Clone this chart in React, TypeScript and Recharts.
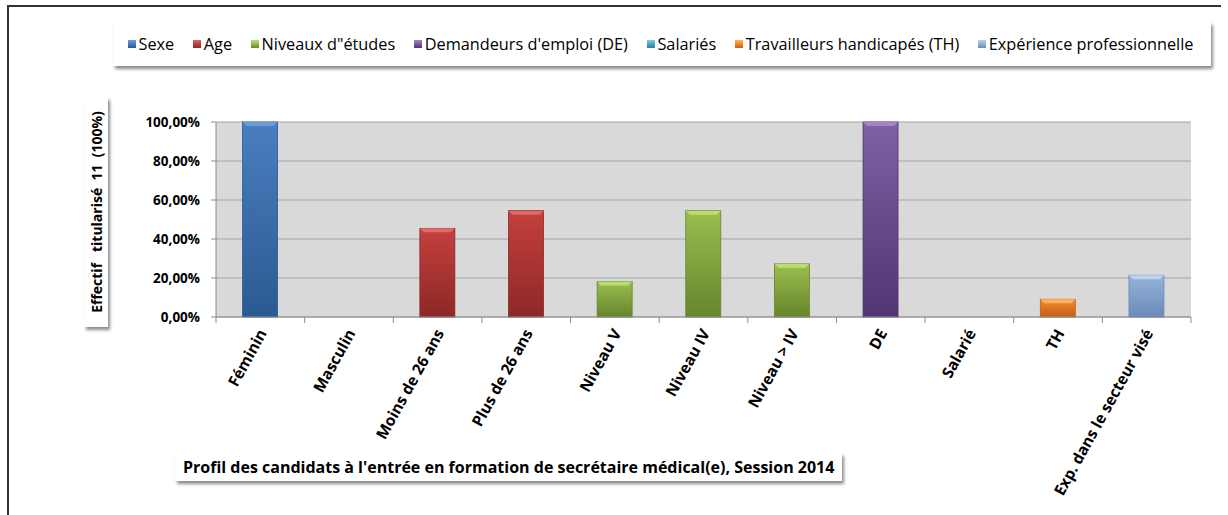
import React from 'react';
import { BarChart, Bar, XAxis, YAxis, CartesianGrid, Cell } from 'recharts';

const categories = [
  'Féminin', 'Masculin', 'Moins de 26 ans', 'Plus de 26 ans', 'Niveau V', 'Niveau IV',
  'Niveau  > IV', 'DE', 'Salarié', 'TH', 'Exp. dans le secteur visé',
];
const values = [1.0, 0, 0.4545, 0.5455, 0.1818, 0.5455, 0.2727, 1.0, 0, 0.0909, 0.214];
const groupOfCategory = [0, 0, 1, 1, 2, 2, 2, 3, 4, 5, 6];
const groupNames = [
  'Sexe', 'Age', 'Niveaux d"études', "Demandeurs d'emploi (DE)", 'Salariés',
  'Travailleurs handicapés (TH)', 'Expérience professionnelle',
];
const groupTop = ['#4A7EC0', '#C4403D', '#9CBE4E', '#8060A6', '#4BACC6', '#F58C2C', '#95B3D9'];
const groupBottom = ['#2B5A91', '#8C2826', '#66852E', '#513573', '#2F7F96', '#C25E17', '#6A8BB8'];
const groupHighlight = ['#6D9BDB', '#E06866', '#BADC73', '#A384C9', '#7FD0E6', '#FFB060', '#BCD3F0'];
const yTicks = [0, 0.2, 0.4, 0.6, 0.8, 1.0];
const yAxisTitle = 'Effectif   titularisé  11  (100%)';
const chartTitle = "Profil des candidats à l'entrée en formation de secrétaire médical(e), Session 2014";

const data = categories.map((c, i) => ({ name: c, value: values[i], group: groupOfCategory[i] }));

const FONT = '"Open Sans", Lato, sans-serif';

const fmt = (v: number) => (v * 100).toFixed(2).replace('.', ',') + '%';

const BevelBar = (props: any) => {
  const { x, y, width, height, payload } = props;
  if (!height || height <= 0) return null;
  const g = payload.group;
  const b = Math.min(4, height / 3);
  return (
    <g>
      <rect x={x} y={y} width={width} height={height} fill={`url(#grad${g})`} stroke={groupBottom[g]} strokeWidth={0.8} />
      <polygon
        points={`${x},${y} ${x + width},${y} ${x + width - b},${y + b} ${x + b},${y + b}`}
        fill={groupHighlight[g]}
      />
    </g>
  );
};

const XTick = (props: any) => {
  const { x, y, payload, index, visibleTicksCount } = props;
  const half = payload && typeof payload.offset === 'number' && payload.offset > 0 ? payload.offset : 44.25;
  const last = index === (visibleTicksCount ?? categories.length) - 1;
  return (
    <g>
      <line x1={x - half} y1={y - 8} x2={x - half} y2={y - 2} stroke="#8C8C8C" />
      {last && <line x1={x + half} y1={y - 8} x2={x + half} y2={y - 2} stroke="#8C8C8C" />}
      <text
        x={0}
        y={0}
        transform={`translate(${x + 7},${y + 8}) rotate(-61)`}
        textAnchor="end"
        fontFamily={FONT}
        fontWeight="bold"
        fontSize={15.5}
        fill="#000"
      >
        {payload.value}
      </text>
    </g>
  );
};

export default function App() {
  return (
    <div style={{ position: 'absolute', left: 0, top: 0, width: 1228, height: 515, background: '#fff', overflow: 'hidden', fontFamily: FONT }}>
      {/* frame */}
      <div style={{ position: 'absolute', left: 7, top: 5, width: 1212, height: 520, borderLeft: '2px solid #333', borderTop: '2px solid #333' }} />
      {/* legend */}
      <div
        style={{
          position: 'absolute', left: 113, top: 22, width: 1098, height: 44, background: '#fff',
          boxShadow: '2px 3px 3px rgba(0,0,0,0.45)', display: 'flex', alignItems: 'center',
          paddingLeft: 15, boxSizing: 'border-box', fontSize: 16.3, color: '#000', whiteSpace: 'pre',
        }}
      >
        {groupNames.map((n, i) => (
          <div key={n} style={{ display: 'flex', alignItems: 'center', marginRight: 19 }}>
            <span
              style={{
                display: 'inline-block', width: 8, height: 8, marginRight: 2.5,
                background: `linear-gradient(${groupHighlight[i]}, ${groupTop[i]} 45%, ${groupBottom[i]})`,
              }}
            />
            <span>{n}</span>
          </div>
        ))}
      </div>
      {/* y axis title */}
      <div
        style={{
          position: 'absolute', left: 84, top: 97, width: 24, height: 230, background: '#fff',
          boxShadow: '2px 3px 3px rgba(0,0,0,0.45)',
        }}
      >
        <div
          style={{
            position: 'absolute', left: 12, top: 115, transform: 'translate(-50%,-50%) rotate(-90deg)',
            whiteSpace: 'pre', fontWeight: 'bold', fontSize: 14, color: '#000',
          }}
        >
          {yAxisTitle}
        </div>
      </div>
      {/* chart title */}
      <div
        style={{
          position: 'absolute', left: 175, top: 453, height: 28, padding: '0 8px', background: '#fff',
          boxShadow: '2px 3px 3px rgba(0,0,0,0.45)', display: 'flex', alignItems: 'center',
          fontWeight: 'bold', fontSize: 16, color: '#000', whiteSpace: 'pre',
        }}
      >
        {chartTitle}
      </div>
      <div style={{ position: 'absolute', left: 0, top: 0 }}>
        <BarChart
          width={1228}
          height={515}
          data={data}
          margin={{ top: 122, right: 37, bottom: 8, left: 136 }}
          barCategoryGap="30%"
        >
          <defs>
            {groupNames.map((_, i) => (
              <linearGradient key={i} id={`grad${i}`} x1="0" y1="0" x2="0" y2="1">
                <stop offset="0%" stopColor={groupTop[i]} />
                <stop offset="100%" stopColor={groupBottom[i]} />
              </linearGradient>
            ))}
          </defs>
          <CartesianGrid vertical={false} stroke="#A6A6A6" strokeWidth={1.2} fill="#D9D9D9" />
          <XAxis
            dataKey="name"
            interval={0}
            height={190}
            tickLine={false}
            axisLine={{ stroke: '#8C8C8C' }}
            tick={<XTick />}
          />
          <YAxis
            domain={[0, 1]}
            ticks={yTicks}
            width={80}
            tickFormatter={fmt}
            tickSize={5}
            tickMargin={11}
            axisLine={{ stroke: '#8C8C8C' }}
            tickLine={{ stroke: '#8C8C8C' }}
            tick={{ fontFamily: FONT, fontWeight: 'bold', fontSize: 13.5, fill: '#000' }}
          />
          <Bar dataKey="value" isAnimationActive={false} shape={<BevelBar />}>
            {data.map((d, i) => (
              <Cell key={i} fill={groupTop[d.group]} />
            ))}
          </Bar>
        </BarChart>
      </div>
    </div>
  );
}
